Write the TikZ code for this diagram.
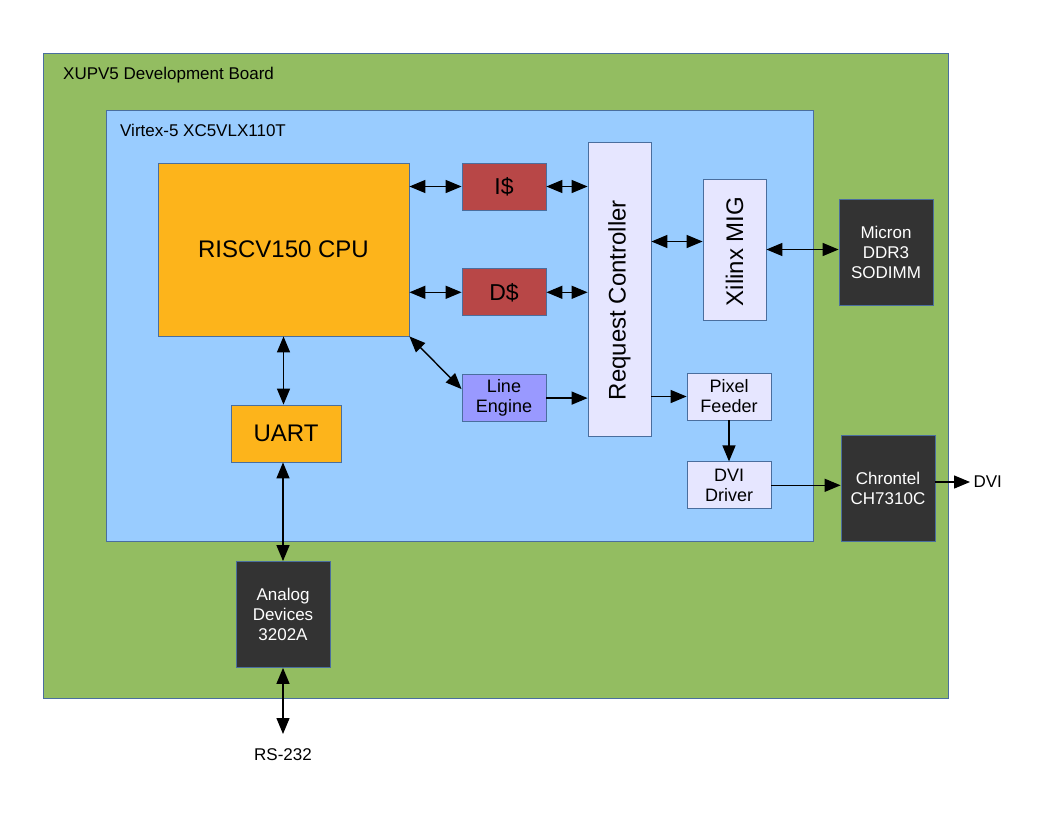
\documentclass[tikz,border=0pt]{standalone}
\usepackage{fontspec}
\setmainfont{Liberation Sans}
\usetikzlibrary{
  	positioning,
  	arrows.meta,
  	calc
  }
\definecolor{boardgreen}{HTML}{93BD61}
\definecolor{fpgablue}{HTML}{99CCFF}
\definecolor{cpuorange}{HTML}{FDB41B}
\definecolor{cachered}{HTML}{B84747}
\definecolor{lavender}{HTML}{E6E6FF}
\definecolor{linepurple}{HTML}{9999FF}
\definecolor{chipgray}{HTML}{333333}
\definecolor{boxline}{HTML}{4A6E9E}

\begin{document}
\begin{tikzpicture}[x=1pt, y=-1pt,
    every node/.style={font=\fontsize{17}{20}\selectfont},
    box/.style={draw=boxline, line width=.8pt, inner sep=0pt, align=center},
    big/.style={font=\fontsize{24}{28}\selectfont},
    chip/.style={box, fill=chipgray, text=white, minimum width=94pt, minimum height=106pt},
    small/.style={box, fill=lavender, minimum width=84pt, minimum height=47pt, font=\fontsize{18}{20}\selectfont},
    cache/.style={box, fill=cachered, minimum width=84pt, minimum height=47pt, font=\fontsize{23}{26}\selectfont},
    both/.style={line width=1.4pt, {Triangle[length=16pt, width=13pt]}-{Triangle[length=16pt, width=13pt]}},
    oneway/.style={line width=1.4pt, -{Triangle[length=16pt, width=13pt]}}]
	\useasboundingbox (0,0) rectangle (1056,816);
%
	\node[box, fill=boardgreen, minimum width=905pt, minimum height=645pt] (board) at (495.5,375.5) {};
	\node[anchor=base west, inner sep=0pt] (boardlab) at (63,79) {XUPV5 Development Board};
	\node[box, fill=fpgablue, minimum width=707pt, minimum height=431pt] (fpga) at (459.5,325.5) {};
	\node[anchor=base west, inner sep=0pt] (fpgalab) at (120,136) {Virtex-5 XC5VLX110T};
%
	\node[box, big, fill=cpuorange, minimum width=251pt, minimum height=173pt] (cpu) at (283.5,249.5) {RISCV150 CPU};
	\node[box, big, fill=cpuorange, minimum width=110pt, minimum height=57pt] (uart) at (286,433.5) {UART};
	\node[cache] (icache) at (504,186.5) {I\$};
	\node[cache, below=58pt of icache] (dcache) {D\$};
	\node[small, fill=linepurple, below=58pt of dcache] (lineeng) {Line\\Engine};
%
	\node[box, fill=lavender, minimum width=63pt, minimum height=294pt,
	  label={[yshift=-11pt, rotate=90, big]center:Request Controller}] (reqctrl) at (619.5,289) {};
	\node[box, fill=lavender, minimum width=63pt, minimum height=141pt,
	  label={[yshift=-2pt, rotate=90, big]center:Xilinx MIG}] (mig) at (734.5,249.5) {};
	\node[small] (pixfeed) at (729,396.5) {Pixel\\Feeder};
	\node[small, below=41pt of pixfeed] (dvidrv) {DVI\\Driver};
%
	\node[chip] (micron) at (886,252) {Micron\\DDR3\\SODIMM};
	\node[chip] (chrontel) at (888,488.5) {Chrontel\\CH7310C};
	\node[chip] (analog) at (283,614.5) {Analog\\Devices\\3202A};
	\node[anchor=west] (dviout) at (970,482) {DVI};
	\node[anchor=north, inner sep=0pt] (rs232) at (283,748) {RS-232};
%
	\path ([yshift=8pt]mig.west) coordinate (migin);
	\draw[both] (cpu.east |- icache.west) -- (icache.west);
	\draw[both] (icache.east) -- (icache.east -| reqctrl.west);
	\draw[both] (cpu.east |- dcache.west) -- (dcache.west);
	\draw[both] (dcache.east) -- (dcache.east -| reqctrl.west);
	\draw[both] (migin -| reqctrl.east) -- (migin);
	\draw[both] (mig.east) -- (mig.east -| micron.west);
	\draw[both] (cpu.south east) -- ([yshift=9pt]lineeng.west);
	\draw[oneway] (lineeng.east) -- (lineeng.east -| reqctrl.west);
	\draw[oneway] (pixfeed.west -| reqctrl.east) -- (pixfeed.west);
	\draw[oneway] (pixfeed.south) -- (dvidrv.north);
	\draw[oneway] (dvidrv.east) -- (dvidrv.east -| chrontel.west);
	\draw[oneway] (dviout.west -| chrontel.east) -- (dviout.west);
	\draw[both] (cpu.south) -- (cpu.south |- uart.north);
	\draw[both] (analog.north |- uart.south) -- (analog.north);
	\draw[both] (analog.south) -- ([yshift=14pt]rs232.north);
\end{tikzpicture}
\end{document}
